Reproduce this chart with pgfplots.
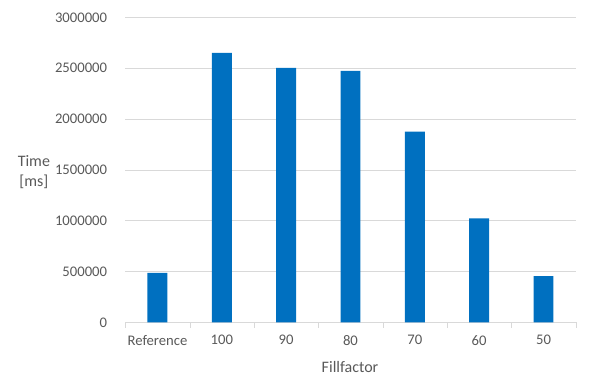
\documentclass[border=0pt]{standalone}
\usepackage{fontspec}
\setmainfont{Carlito}
\usepackage{pgfplots}
\pgfplotsset{compat=1.18}
\definecolor{barblue}{HTML}{0070C0}
\definecolor{txtgray}{HTML}{595959}
\definecolor{gridgray}{HTML}{D9D9D9}
\begin{document}
\begin{tikzpicture}[x=0.75pt,y=0.75pt]
\begin{axis}[
  name=ax,
  at={(0,0)}, anchor=south west,
  scale only axis,
  width=337.8pt, height=228.75pt,
  xmin=-0.5, xmax=6.5,
  ymin=0, ymax=3000000,
  ytick={0,500000,...,3000000},
  xtick={0,...,6},
  xticklabels={Reference,100,90,80,70,60,50},
  minor xtick={-0.5,0.5,...,6.5},
  major x tick style={draw=none},
  minor x tick style={draw=gridgray},
  minor tick length=4pt,
  tick align=outside,
  axis x line=bottom,
  axis y line=left,
  x axis line style={draw=gridgray,-},
  y axis line style={draw=none},
  y tick style={draw=none},
  ymajorgrids,
  grid style={draw=gridgray},
  scaled y ticks=false,
  /pgf/number format/assume math mode=true,
  yticklabel style={/pgf/number format/fixed,/pgf/number format/1000 sep={},font=\fontsize{11}{13}\selectfont,text=txtgray,xshift=-8pt},
  xticklabel style={font=\fontsize{11}{13}\selectfont,text=txtgray,yshift=-2pt},
  xlabel={Fillfactor},
  ylabel={Time\\{[ms]}},
  xlabel style={at={(rel axis cs:0.499,-0.146)},anchor=center,font=\fontsize{12}{14}\selectfont,text=txtgray},
  ylabel style={at={(rel axis cs:-0.203,0.493)},anchor=center,rotate=-90,align=center,font=\fontsize{12}{15}\selectfont,text=txtgray},
  ybar, bar width=0.31,
  clip=false,
]
\addplot[fill=barblue, draw=none] coordinates {
  (0,486000) (1,2650000) (2,2503000) (3,2474000) (4,1876000) (5,1023000) (6,454000)
};
\end{axis}
\pgfresetboundingbox
\path (ax.south west) ++(-125.3,-69.7) rectangle ++(590,392);
\end{tikzpicture}
\end{document}
